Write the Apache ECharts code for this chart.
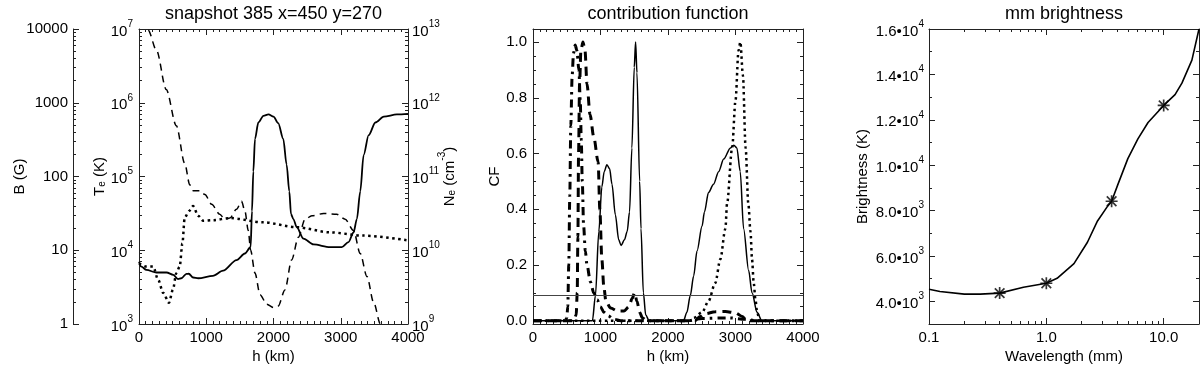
<!DOCTYPE html>
<html>
<head>
<meta charset="utf-8">
<script src="https://cdn.jsdelivr.net/npm/echarts@6/dist/echarts.min.js"></script>
<style>
html, body { margin: 0; padding: 0; background: #fff; }
#chart { width: 1200px; height: 369px; }
</style>
</head>
<body>
<div id="chart"></div>
<script>
// ---- left panel: atmosphere vs height (km) ----
var teH = [0, 35, 110, 260, 410, 510, 580, 630, 705, 740, 805, 880, 1100, 1250, 1450, 1575, 1660, 1680, 1700, 1725,
    1775, 1850, 1925, 2000, 2070, 2145, 2195, 2235, 2260, 2295, 2345, 2445, 2595, 2840, 3015, 3115, 3190, 3240, 3290, 3340,
    3415, 3515, 3640, 3835, 4000];
var teK = [6990, 6000, 5410, 4990, 4990, 4640, 4060, 4170, 4790, 4800, 4270, 4170, 4500, 5300, 7360, 9030, 11070, 34000, 117000, 324000,
    540000, 664000, 694000, 647000, 528000, 324000, 145000, 63000, 31000, 26500, 20600, 14400, 12000, 11000, 11000, 12900, 17400, 26500, 63000, 195000,
    363000, 540000, 647000, 694000, 708000];

var bH = [0, 135, 260, 405, 555, 680, 755, 805, 905, 980, 1080, 1200, 1275, 1350, 1450, 1525, 1575, 1625, 1660, 1725,
    1800, 1900, 2000, 2070, 2170, 2270, 2370, 2470, 2570, 2745, 2940, 3065, 3190, 3290, 3390, 3490, 3590, 3690];
var bG = [19000, 9700, 5140, 1510, 489, 151, 77, 64, 64, 57, 42, 30.8, 26.4, 27.3, 36, 46, 34, 18.5, 10, 4.9,
    2.5, 1.85, 1.67, 1.75, 2.9, 7.4, 15, 26.4, 29.3, 31.5, 30.8, 26.4, 18.5, 9.0, 4.4, 1.95, 1.0, 0.51];

var neH = [0, 110, 210, 285, 360, 445, 505, 555, 605, 645, 680, 745, 805, 880, 955, 1100, 1350, 1850, 2345, 2840, 3340, 4000];
var neCm = [6.64e9, 6.0e9, 6.0e9, 3.98e9, 2.64e9, 1.94e9, 2.93e9, 4.89e9, 6.0e9, 1.23e10, 2.78e10, 3.41e10, 3.98e10, 2.93e10,
    2.51e10, 2.56e10, 2.73e10, 2.39e10, 2.05e10, 1.75e10, 1.58e10, 1.36e10];

// ---- middle panel: contribution functions ----
var cfSolidH = [0, 880, 925, 975, 1020, 1055, 1095, 1135, 1170, 1220, 1270, 1305, 1355, 1395, 1430, 1465, 1500, 1520, 1540, 1580,
    1600, 1635, 1670, 1720, 2230, 2280, 2330, 2380, 2430, 2505, 2540, 2600, 2675, 2750, 2825, 2925, 2975, 3020, 3070, 3120,
    3195, 3245, 3320, 3390, 4000];
var cfSolid = [0, 0, 0.09, 0.32, 0.48, 0.535, 0.56, 0.545, 0.49, 0.38, 0.29, 0.27, 0.29, 0.32, 0.39, 0.62, 0.91, 1.0, 0.89, 0.5,
    0.33, 0.1, 0.02, 0, 0, 0.03, 0.09, 0.16, 0.25, 0.34, 0.39, 0.46, 0.49, 0.535, 0.58, 0.62, 0.63, 0.62, 0.535, 0.33,
    0.18, 0.1, 0.03, 0, 0];

var cfDotH = [0, 2330, 2380, 2505, 2600, 2700, 2775, 2850, 2875, 2950, 3000, 3045, 3072, 3110, 3150, 3190, 3222, 3245, 3270, 3295,
    3320, 3360, 4000];
var cfDot = [0, 0, 0.01, 0.03, 0.07, 0.135, 0.22, 0.33, 0.42, 0.62, 0.79, 0.97, 1.0, 0.88, 0.62, 0.42, 0.32, 0.22, 0.135, 0.077,
    0.03, 0, 0];

var cfDashH = [0, 600, 640, 655, 665, 675, 690, 710, 740, 770, 800, 845, 900, 965, 990, 1020, 1050, 1080, 1150, 1250,
    1350, 1420, 1470, 1505, 1540, 1580, 1620, 1680, 2400, 2475, 2550, 2700, 2850, 3000, 3100, 3150, 3200, 4000];
var cfDash = [0, 0, 0.02, 0.1, 0.3, 0.6, 0.85, 0.97, 1.0, 0.97, 0.85, 0.74, 0.66, 0.57, 0.4, 0.22, 0.12, 0.07, 0.045, 0.035,
    0.035, 0.05, 0.08, 0.1, 0.07, 0.03, 0.01, 0, 0, 0.015, 0.025, 0.032, 0.033, 0.028, 0.015, 0.005, 0, 0];

var cfDashDotH = [0, 480, 500, 515, 530, 545, 560, 580, 600, 625, 650, 680, 700, 715, 730, 750, 775, 800, 850, 900,
    950, 1000, 1050, 1110, 1200, 1300, 2300, 2500, 2900, 3150, 3300, 4000];
var cfDashDot = [0, 0, 0.01, 0.05, 0.2, 0.45, 0.7, 0.88, 0.96, 0.99, 0.97, 0.9, 0.79, 0.65, 0.5, 0.34, 0.25, 0.2, 0.14, 0.1,
    0.075, 0.05, 0.03, 0.018, 0.005, 0, 0, 0.008, 0.01, 0.005, 0, 0];

var cfLevel = 0.092;
var cfTicks = [0, 0.2, 0.4, 0.6, 0.8, 1.0];
var cfMinor = [0.05, 0.1, 0.15, 0.25, 0.3, 0.35, 0.45, 0.5, 0.55, 0.65, 0.7, 0.75, 0.85, 0.9, 0.95];

// ---- right panel: mm brightness ----
var mmWave = [0.1, 0.124, 0.2, 0.273, 0.4, 0.638, 1.0, 1.235, 1.72, 2.24, 2.73, 3.33, 3.6, 4.06, 4.95, 6.03, 7.36, 10.0, 12.5, 14.3, 17.4, 20];
var mmBright = [4535, 4434, 4318, 4318, 4361, 4622, 4795, 5012, 5663, 6602, 7542, 8193, 8409, 9132, 10289, 11156, 11879, 12631, 13108, 13614, 14626, 16000];
var starWave = [0.4, 1.0, 3.6, 10.0];
var starBright = [4361, 4795, 8409, 12631];
var brTicks = [4000, 6000, 8000, 10000, 12000, 14000, 16000];
var brMinor = [5000, 7000, 9000, 11000, 13000, 15000];

var AX = '#222';
var FONT = '"Liberation Sans", Arial, Helvetica, sans-serif';
var txt = { color: '#000', fontFamily: FONT, fontSize: 15 };
var rich = {
    b: { fontSize: 15, lineHeight: 20, verticalAlign: 'bottom', fontFamily: FONT, color: '#000' },
    sup: { fontSize: 10, lineHeight: 10, verticalAlign: 'top', fontFamily: FONT, color: '#000' },
    sub: { fontSize: 10, lineHeight: 10, verticalAlign: 'bottom', fontFamily: FONT, color: '#000' }
};

function pairs(h, v) {
    return h.map(function (x, i) { return [x, v[i]]; });
}

function powLabel(v) {
    return '{b|10}{sup|' + Math.round(Math.log10(v)) + '}';
}

// log minor ticks expressed in decades
function decadeMinor(lo, hi) {
    var out = [];
    for (var d = lo; d < hi; d++) {
        for (var k = 2; k <= 9; k++) out.push(d + Math.log10(k));
    }
    return out;
}

// axis that only draws tick marks (used for IDL-like minor ticks)
function tickAxis(grid, pos, min, max, values, len, offset, line) {
    return {
        type: 'value', gridIndex: grid, position: pos, offset: offset || 0,
        min: min, max: max,
        axisLine: { show: !!line, onZero: false, lineStyle: { color: AX, width: 1 } },
        axisTick: { show: true, inside: true, length: len, customValues: values, lineStyle: { color: AX, width: 1 } },
        axisLabel: { show: false },
        splitLine: { show: false }
    };
}

function hAxis(grid, pos, withLabels, name, nameGap, nameStyle) {
    return {
        type: 'value', gridIndex: grid, position: pos, min: 0, max: 4000, interval: 1000,
        name: name, nameLocation: 'middle', nameGap: nameGap, nameMoveOverlap: false, nameTextStyle: nameStyle || txt,
        axisLine: { onZero: false, lineStyle: { color: AX, width: 1 } },
        axisTick: { inside: true, length: 6, lineStyle: { color: AX } },
        minorTick: { show: true, splitNumber: 10, length: 3, lineStyle: { color: AX } },
        axisLabel: Object.assign({ show: withLabels, margin: 6, formatter: function (v) { return String(v); } }, txt),
        splitLine: { show: false }
    };
}

var titleStyle = { color: '#000', fontFamily: FONT, fontSize: 18 };
var logWave = Math.log10(20);
var waveMinor = decadeMinor(-1, 1).concat([logWave]);

var xAxes = [
    hAxis(0, 'bottom', true, 'h (km)', 25),
    hAxis(0, 'top', false, 'snapshot 385 x=450 y=270', 6, titleStyle),
    hAxis(1, 'bottom', true, 'h (km)', 25),
    hAxis(1, 'top', false, 'contribution function', 6, titleStyle),
    {
        type: 'log', logBase: 10, gridIndex: 2, position: 'bottom', min: 0.1, max: 20,
        name: 'Wavelength (mm)', nameLocation: 'middle', nameGap: 25, nameMoveOverlap: false, nameTextStyle: txt,
        axisLine: { onZero: false, lineStyle: { color: AX, width: 1 } },
        axisTick: { show: false },
        axisLabel: Object.assign({ margin: 6, showMaxLabel: false, formatter: function (v) { return v.toFixed(1); } }, txt),
        splitLine: { show: false }
    },
    tickAxis(2, 'bottom', -1, logWave, [-1, 0, 1], 6),
    tickAxis(2, 'bottom', -1, logWave, waveMinor, 3),
    Object.assign(tickAxis(2, 'top', -1, logWave, [-1, 0, 1], 6, 0, true),
        { name: 'mm brightness', nameLocation: 'middle', nameGap: 6, nameTextStyle: titleStyle }),
    tickAxis(2, 'top', -1, logWave, waveMinor, 3)
];

function logAxis(pos, min, max, offset, name, nameGap, fmt, margin) {
    return {
        type: 'log', logBase: 10, gridIndex: 0, position: pos, offset: offset, min: min, max: max,
        name: name, nameLocation: 'middle', nameGap: nameGap, nameMoveOverlap: false,
        nameTextStyle: Object.assign({ rich: rich }, txt),
        axisLine: { onZero: false, lineStyle: { color: AX, width: 1 } },
        axisTick: { show: false },
        axisLabel: Object.assign({ margin: margin, formatter: fmt, rich: rich }, txt),
        splitLine: { show: false }
    };
}

var decMajor = [0, 1, 2, 3, 4];
var decMinor = decadeMinor(0, 4);

var yAxes = [
    logAxis('left', 1e3, 1e7, 0, '{b|T}{sub|e}{b| (K)}', 32, powLabel, 6),
    logAxis('right', 1e9, 1e13, 0, '{b|N}{sub|e}{b| (cm}{sup|-3}{b|)}', 29, powLabel, 4),
    logAxis('left', 1, 1e4, 66, 'B (G)', 46, function (v) { return String(Math.round(v)); }, 5),
    tickAxis(0, 'left', 0, 4, decMajor, 6, 0),
    tickAxis(0, 'left', 0, 4, decMinor, 3, 0),
    tickAxis(0, 'right', 0, 4, decMajor, 6, 0),
    tickAxis(0, 'right', 0, 4, decMinor, 3, 0),
    tickAxis(0, 'left', 0, 4, decMajor, 6, 66),
    tickAxis(0, 'left', 0, 4, decMinor, 3, 66),
    {
        type: 'value', gridIndex: 1, position: 'left', min: -0.012, max: 1.047,
        name: 'CF', nameLocation: 'middle', nameGap: 31, nameMoveOverlap: false, nameTextStyle: txt,
        axisLine: { onZero: false, lineStyle: { color: AX, width: 1 } },
        axisTick: { inside: true, length: 6, customValues: cfTicks, lineStyle: { color: AX } },
        axisLabel: Object.assign({ margin: 6, customValues: cfTicks, formatter: function (v) { return v.toFixed(1); } }, txt),
        splitLine: { show: false }
    },
    tickAxis(1, 'left', -0.012, 1.047, cfMinor, 3),
    tickAxis(1, 'right', -0.012, 1.047, cfTicks, 6, 0, true),
    tickAxis(1, 'right', -0.012, 1.047, cfMinor, 3),
    {
        type: 'value', gridIndex: 2, position: 'left', min: 3000, max: 16000,
        name: 'Brightness (K)', nameLocation: 'middle', nameGap: 59, nameMoveOverlap: false, nameTextStyle: txt,
        axisLine: { onZero: false, lineStyle: { color: AX, width: 1 } },
        axisTick: { inside: true, length: 6, customValues: brTicks, lineStyle: { color: AX } },
        axisLabel: Object.assign({
            margin: 5, customValues: brTicks, rich: rich,
            formatter: function (v) {
                var e = Math.floor(Math.log10(v));
                return '{b|' + (v / Math.pow(10, e)).toFixed(1) + '•10}{sup|' + e + '}';
            }
        }, txt),
        splitLine: { show: false }
    },
    tickAxis(2, 'left', 3000, 16000, brMinor, 3),
    tickAxis(2, 'right', 3000, 16000, brTicks, 6, 0, true),
    tickAxis(2, 'right', 3000, 16000, brMinor, 3)
];

function line(data, xi, yi, width, type) {
    return {
        type: 'line', xAxisIndex: xi, yAxisIndex: yi, data: data,
        showSymbol: false, symbol: 'none', smooth: 0.3, smoothMonotone: 'x',
        lineStyle: { color: '#000', width: width, type: type, cap: 'butt' },
        silent: true
    };
}

var asterisk = 'path://M0 8.6L20 8.6L20 11.4L0 11.4Z M8.6 0L11.4 0L11.4 20L8.6 20Z M1 3L3 1L19 17L17 19Z M17 1L19 3L3 19L1 17Z';

var cfSolidSeries = line(pairs(cfSolidH, cfSolid), 2, 9, 1.5, 'solid');
cfSolidSeries.markLine = {
    silent: true, symbol: 'none', label: { show: false },
    lineStyle: { color: '#444', width: 1, type: 'solid' },
    data: [{ yAxis: cfLevel }]
};

var brSeries = line(pairs(mmWave, mmBright), 4, 13, 1.6, 'solid');
brSeries.smooth = false;

var option = {
    animation: false,
    backgroundColor: '#fff',
    grid: [
        { left: 139, top: 28, width: 269, height: 300 },
        { left: 533, top: 28, width: 270, height: 300 },
        { left: 929, top: 28, width: 270, height: 300 }
    ],
    xAxis: xAxes,
    yAxis: yAxes,
    series: [
        line(pairs(teH, teK), 0, 0, 1.8, 'solid'),
        line(pairs(bH, bG), 0, 2, 1.5, [7, 5]),
        line(pairs(neH, neCm), 0, 1, 2.5, [2.5, 3.5]),
        cfSolidSeries,
        line(pairs(cfDotH, cfDot), 2, 9, 2.5, [2.5, 3.5]),
        line(pairs(cfDashH, cfDash), 2, 9, 3, [9, 6]),
        line(pairs(cfDashDotH, cfDashDot), 2, 9, 3, [8, 5, 2.5, 5]),
        brSeries,
        {
            type: 'scatter', xAxisIndex: 4, yAxisIndex: 13,
            data: pairs(starWave, starBright),
            symbol: asterisk, symbolSize: 12,
            itemStyle: { color: '#000' }, silent: true
        }
    ]
};

var chart = echarts.init(document.getElementById('chart'));
chart.setOption(option);
</script>
</body>
</html>
